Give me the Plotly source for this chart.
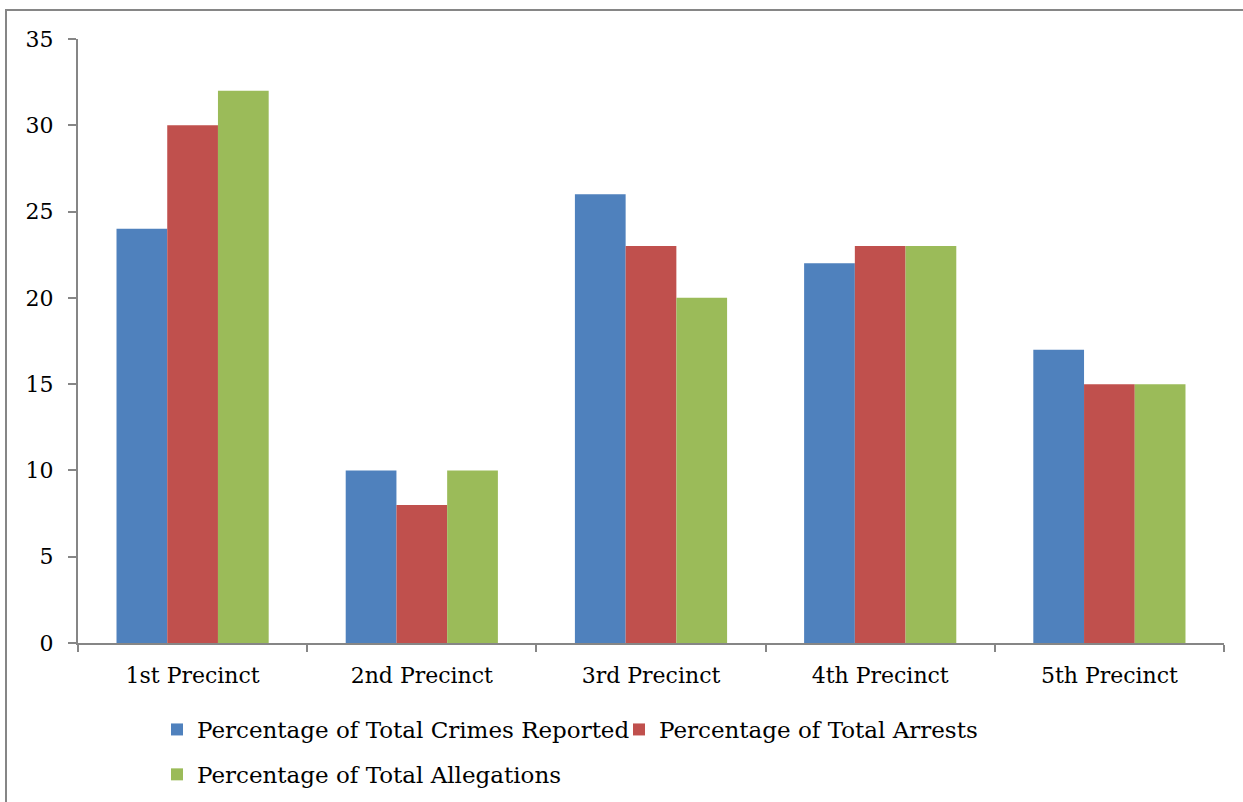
import plotly.graph_objects as go

precincts = ["1st Precinct", "2nd Precinct", "3rd Precinct", "4th Precinct", "5th Precinct"]
crimes_reported = [24, 10, 26, 22, 17]
arrests = [30, 8, 23, 23, 15]
allegations = [32, 10, 20, 23, 15]

series_names = [
    "Percentage of Total Crimes Reported",
    "Percentage of Total Arrests",
    "Percentage of Total Allegations",
]
series_colors = ["#4F81BD", "#C0504D", "#9BBB59"]
y_ticks = [0, 5, 10, 15, 20, 25, 30, 35]

FONT = "DejaVu Serif"
AXIS_GRAY = "#868686"

fig = go.Figure()
for name, vals, color in zip(series_names, [crimes_reported, arrests, allegations], series_colors):
    fig.add_trace(go.Bar(
        x=precincts, y=vals, name=name, legendgroup=name,
        marker=dict(color=color, line=dict(width=0)),
    ))

W, H = 1243, 802
ml, mr, mt, mb = 78, 19, 39, 159
pw, ph = W - ml - mr, H - mt - mb

fig.update_layout(
    width=W, height=H,
    margin=dict(l=ml, r=mr, t=mt, b=mb, pad=0, autoexpand=False),
    paper_bgcolor="white", plot_bgcolor="white",
    font=dict(family=FONT, size=22, color="black"),
    barmode="group", bargap=0.336, bargroupgap=0,
    showlegend=True,
    legend=dict(
        orientation="h", x=(157 - ml) / pw, xanchor="left",
        y=(H - mb - 708) / ph, yanchor="top",
        font=dict(family=FONT, size=23, color="black"),
        itemwidth=30, tracegroupgap=12, traceorder="grouped", entrywidth=417,
    ),
    xaxis=dict(
        showline=True, linecolor=AXIS_GRAY, linewidth=2,
        ticks="outside", ticklen=7, tickcolor=AXIS_GRAY, tickwidth=2,
        tickson="boundaries", showgrid=False, ticklabelstandoff=12,
    ),
    yaxis=dict(
        range=[0, 35], tickvals=y_ticks, showline=True, linecolor=AXIS_GRAY, linewidth=2,
        ticks="outside", ticklen=8, tickcolor=AXIS_GRAY, tickwidth=2,
        showgrid=False, zeroline=False, ticklabelstandoff=10,
    ),
)

# chart frame (top and left edges visible)
fig.add_shape(
    type="rect", xref="paper", yref="paper",
    x0=(6 - ml) / pw, x1=(W + 20 - ml) / pw,
    y0=(H - mb - (H + 20)) / ph, y1=(H - mb - 10) / ph,
    line=dict(color=AXIS_GRAY, width=2), fillcolor="rgba(0,0,0,0)", layer="below",
)

fig.write_html("out.html")
